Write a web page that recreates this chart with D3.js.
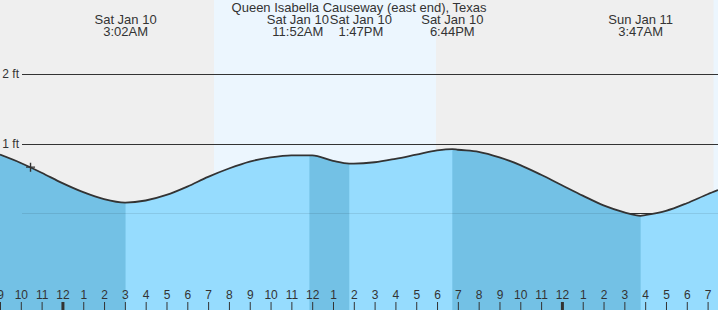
<!DOCTYPE html>
<html>
<head>
<meta charset="utf-8">
<script src="https://cdn.jsdelivr.net/npm/d3@7"></script>
<style>
  body { margin: 0; background: #fff; }
  svg { display: block; font-family: "Liberation Sans", Arial, sans-serif; }
</style>
</head>
<body>
<svg id="chart"></svg>
<script>
const title = "Queen Isabella Causeway (east end), Texas";

const domain_times = ["2026-01-09 21:00", "2026-01-11 07:30"];

// water level, ft
const reading_times = [
  "2026-01-09 21:00", "2026-01-09 22:00", "2026-01-09 23:00",
  "2026-01-10 00:00", "2026-01-10 01:00", "2026-01-10 02:00", "2026-01-10 03:00",
  "2026-01-10 04:00", "2026-01-10 05:00", "2026-01-10 06:00", "2026-01-10 07:00",
  "2026-01-10 08:00", "2026-01-10 09:00", "2026-01-10 10:00", "2026-01-10 11:00",
  "2026-01-10 12:00", "2026-01-10 13:00", "2026-01-10 14:00", "2026-01-10 15:00",
  "2026-01-10 16:00", "2026-01-10 17:00", "2026-01-10 18:00", "2026-01-10 19:00",
  "2026-01-10 20:00", "2026-01-10 21:00", "2026-01-10 22:00", "2026-01-10 23:00",
  "2026-01-11 00:00", "2026-01-11 01:00", "2026-01-11 02:00", "2026-01-11 03:00",
  "2026-01-11 04:00", "2026-01-11 05:00", "2026-01-11 06:00", "2026-01-11 07:00",
  "2026-01-11 07:30"
];
const reading_levels = [
  0.84, 0.72, 0.58,
  0.43, 0.30, 0.20, 0.15,
  0.18, 0.26, 0.38, 0.52,
  0.64, 0.74, 0.80, 0.83,
  0.83, 0.75, 0.71, 0.73,
  0.78, 0.84, 0.90, 0.91,
  0.88, 0.80, 0.69, 0.55,
  0.40, 0.25, 0.11, 0.01,
  -0.03, 0.03, 0.14, 0.27,
  0.33
];

const extreme_times = ["2026-01-10 03:02", "2026-01-10 11:52", "2026-01-10 13:47", "2026-01-10 18:44", "2026-01-11 03:47"];
const extreme_levels = [0.15, 0.83, 0.71, 0.92, -0.04];
const extreme_types = ["L", "H", "L", "H", "L"];

const daylight_starts = ["2026-01-10 07:17", "2026-01-11 07:17"];
const daylight_ends = ["2026-01-10 17:57", "2026-01-11 17:57"];

const y_ticks = [0, 1, 2];

const marker_time = "2026-01-09 22:28";
const marker_level = 0.66;

class TideChart {

  constructor(config) {
    this.config = {
      parent: config.parent,
      width: config.width || 718,
      height: config.height || 310,
      zero_y: 213,
      two_y: 74
    };
    this.init();
  }

  init() {
    let self = this;
    const parse = d3.timeParse("%Y-%m-%d %H:%M");
    self.parse = parse;

    self.svg = d3.select(self.config.parent)
      .attr("width", self.config.width)
      .attr("height", self.config.height);

    self.xscale = d3.scaleTime()
      .domain(domain_times.map(parse))
      .range([0, self.config.width]);

    self.yscale = d3.scaleLinear()
      .domain([0, 2])
      .range([self.config.zero_y, self.config.two_y]);

    self.extremes = extreme_times.map((t, i) => ({
      time: parse(t), level: extreme_levels[i], type: extreme_types[i]
    }));

    self.points = reading_times.map((t, i) => ({ time: parse(t), level: reading_levels[i] }))
      .concat(self.extremes.map(d => ({ time: d.time, level: d.level })))
      .sort((a, b) => a.time - b.time);

    // falling tide: from previous high (or chart start) down to each low
    self.falling = [];
    self.extremes.forEach((d, i) => {
      if (d.type === "L") {
        let start = i > 0 ? self.extremes[i - 1].time : self.xscale.domain()[0];
        self.falling.push([start, d.time]);
      }
    });
  }

  render() {
    let self = this;
    const W = self.config.width, H = self.config.height;
    const x = self.xscale, y = self.yscale;

    // night background
    self.svg.append("rect")
      .attr("width", W).attr("height", H)
      .attr("fill", "#efefef");

    // daylight
    self.svg.selectAll(".day")
      .data(daylight_starts.map((s, i) => [self.parse(s), self.parse(daylight_ends[i])]))
      .enter().append("rect")
      .attr("class", "day")
      .attr("x", d => x(d[0]))
      .attr("width", d => x(d[1]) - x(d[0]))
      .attr("height", H)
      .attr("fill", "#ecf6fe");

    // grid lines (dark, under the water)
    self.svg.selectAll(".grid")
      .data(y_ticks)
      .enter().append("line")
      .attr("class", "grid")
      .attr("x1", 22).attr("x2", W)
      .attr("y1", d => Math.round(y(d)) + 0.5)
      .attr("y2", d => Math.round(y(d)) + 0.5)
      .attr("stroke", "#333");

    self.svg.selectAll(".ylabel")
      .data(y_ticks)
      .enter().append("text")
      .attr("class", "ylabel")
      .attr("x", 19)
      .attr("y", d => y(d) + 4)
      .attr("text-anchor", "end")
      .attr("font-size", 12)
      .attr("fill", "#333")
      .text(d => d + " ft");

    const area = d3.area()
      .x(d => x(d.time))
      .y0(H)
      .y1(d => y(d.level))
      .curve(d3.curveMonotoneX);

    const line = d3.line()
      .x(d => x(d.time))
      .y(d => y(d.level))
      .curve(d3.curveMonotoneX);

    self.svg.append("path")
      .datum(self.points)
      .attr("d", area)
      .attr("fill", "#96dcfe");

    const defs = self.svg.append("defs");
    defs.append("clipPath").attr("id", "falling-clip")
      .selectAll("rect")
      .data(self.falling)
      .enter().append("rect")
      .attr("x", d => x(d[0]))
      .attr("width", d => x(d[1]) - x(d[0]))
      .attr("height", H);

    self.svg.append("path")
      .datum(self.points)
      .attr("d", area)
      .attr("fill", "#73c1e5")
      .attr("clip-path", "url(#falling-clip)");

    // faint grid line over the water
    self.svg.append("line")
      .attr("x1", 22).attr("x2", W)
      .attr("y1", Math.round(y(0)) + 0.5)
      .attr("y2", Math.round(y(0)) + 0.5)
      .attr("stroke", "#000")
      .attr("stroke-opacity", 0.09);

    self.svg.append("path")
      .datum(self.points)
      .attr("d", line)
      .attr("fill", "none")
      .attr("stroke", "#333")
      .attr("stroke-width", 1.8);

    // current time marker
    const mx = x(self.parse(marker_time)), my = y(marker_level);
    self.svg.append("path")
      .attr("d", `M${mx - 4.5},${my}H${mx + 4.5}M${mx},${my - 4.5}V${my + 4.5}`)
      .attr("stroke", "#333")
      .attr("stroke-width", 1.4);

    // hour axis
    const xaxis = d3.axisTop(x)
      .ticks(d3.timeHour.every(1))
      .tickFormat(d3.timeFormat("%-I"))
      .tickSize(8)
      .tickPadding(3);

    const axis_group = self.svg.append("g")
      .attr("transform", `translate(0,${H})`)
      .call(xaxis);
    axis_group.select(".domain").remove();
    axis_group.selectAll(".tick line")
      .attr("stroke", "#333")
      .attr("stroke-width", d => d.getHours() === 0 ? 3 : 1);
    axis_group.selectAll(".tick text")
      .attr("fill", "#333")
      .attr("font-size", 12)
      .attr("font-family", "Liberation Sans, Arial, sans-serif");

    // extreme labels, pushed apart when they overlap
    const fmt_day = d3.timeFormat("%a %b %-d");
    const fmt_time = d3.timeFormat("%-I:%M%p");
    let labels = self.extremes.map(d => ({ cx: x(d.time), d: d }));
    const gap = 63;
    for (let i = 1; i < labels.length; i++) {
      let diff = labels[i].cx - labels[i - 1].cx;
      if (diff < gap) {
        let mid = (labels[i].cx + labels[i - 1].cx) / 2;
        labels[i - 1].cx = mid - gap / 2;
        labels[i].cx = mid + gap / 2;
      }
    }

    const lab = self.svg.selectAll(".extreme")
      .data(labels)
      .enter().append("text")
      .attr("class", "extreme")
      .attr("text-anchor", "middle")
      .attr("font-size", 13)
      .attr("fill", "#333");
    lab.append("tspan")
      .attr("x", d => d.cx).attr("y", 24)
      .text(d => fmt_day(d.d.time));
    lab.append("tspan")
      .attr("x", d => d.cx).attr("y", 36)
      .text(d => fmt_time(d.d.time));

    self.svg.append("text")
      .attr("x", W / 2)
      .attr("y", 12)
      .attr("text-anchor", "middle")
      .attr("font-size", 13)
      .attr("fill", "#333")
      .text(title);
  }
}

let chart = new TideChart({ parent: "#chart", width: 718, height: 310 });
chart.render();
</script>
</body>
</html>
